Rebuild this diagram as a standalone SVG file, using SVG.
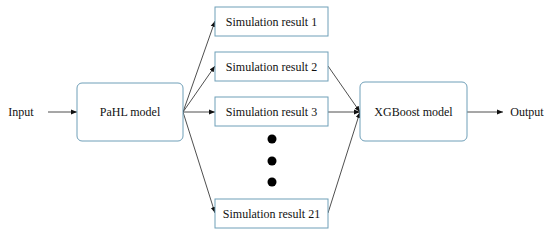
<svg xmlns="http://www.w3.org/2000/svg" width="550" height="235" viewBox="0 0 550 235">
<style>
.box{fill:#fff;stroke:#6f9fb8;stroke-width:1}
.c{stroke:#222;stroke-width:0.8;fill:none;marker-end:url(#ah)}
</style>
<defs>
<marker id="ah" viewBox="0 0 10 10" refX="10" refY="5" markerWidth="6" markerHeight="6" orient="auto" markerUnits="userSpaceOnUse">
<path d="M0,1 L10,5 L0,9 z" fill="#111"/>
</marker>
</defs>
<rect width="550" height="235" fill="#fff"/>
<g id="connectors">
<line class="c" x1="48" y1="112" x2="77" y2="112"/>
<line class="c" x1="183" y1="112" x2="215" y2="21"/>
<line class="c" x1="183" y1="112" x2="215" y2="66"/>
<line class="c" x1="183" y1="112" x2="215" y2="112"/>
<line class="c" x1="183" y1="112" x2="215" y2="213"/>
<line class="c" x1="328" y1="66" x2="360" y2="112"/>
<line class="c" x1="328" y1="112" x2="360" y2="112"/>
<line class="c" x1="328" y1="213" x2="360" y2="112"/>
<line class="c" x1="467" y1="112" x2="503" y2="112"/>
</g>
<g font-family="Liberation Serif, Times New Roman, serif" font-size="12" fill="#111" text-anchor="middle">
<g id="input"><text x="21" y="116">Input</text></g>
<g id="pahl"><rect class="box" x="77" y="83" width="106" height="58" rx="5"/><text x="130" y="116">PaHL model</text></g>
<g id="sim1"><rect class="box" x="215" y="7" width="113" height="29"/><text x="271.5" y="25.5">Simulation result 1</text></g>
<g id="sim2"><rect class="box" x="215" y="52" width="113" height="29"/><text x="271.5" y="70.5">Simulation result 2</text></g>
<g id="sim3"><rect class="box" x="215" y="97" width="113" height="29"/><text x="271.5" y="115.5">Simulation result 3</text></g>
<g id="dots"><circle cx="272" cy="139" r="4.5" fill="#000"/><circle cx="272" cy="161" r="4.5" fill="#000"/><circle cx="272" cy="182" r="4.5" fill="#000"/></g>
<g id="sim21"><rect class="box" x="215" y="199" width="113" height="29"/><text x="271.5" y="217.5">Simulation result 21</text></g>
<g id="xgb"><rect class="box" x="360" y="82" width="107" height="59" rx="5"/><text x="413.5" y="116">XGBoost model</text></g>
<g id="output"><text x="527" y="116">Output</text></g>
</g>
</svg>
